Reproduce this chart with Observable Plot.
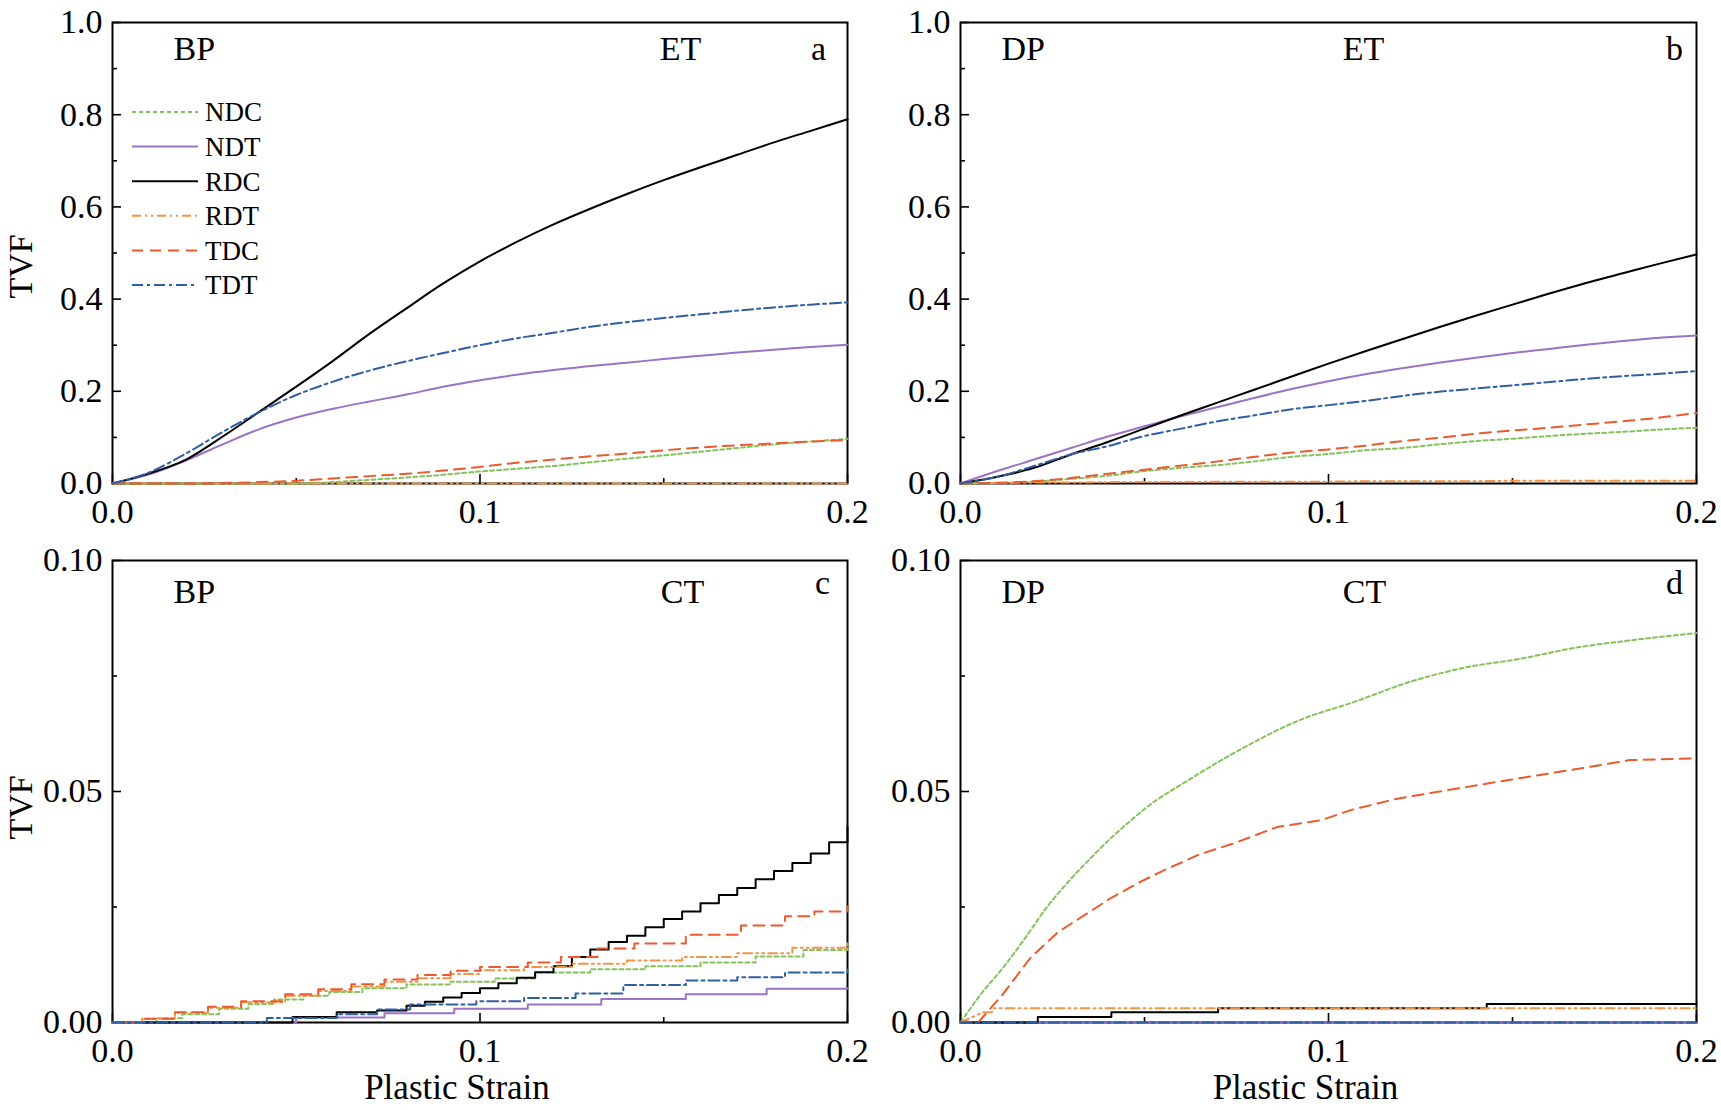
<!DOCTYPE html>
<html><head><meta charset="utf-8">
<script src="https://cdn.jsdelivr.net/npm/d3@7"></script>
<script src="https://cdn.jsdelivr.net/npm/@observablehq/plot@0.6"></script>
<style>
html,body{margin:0;padding:0;background:#fff;}
#wrap{position:relative;width:1721px;height:1110px;overflow:hidden;background:#fff;font-family:"Liberation Serif","Times New Roman",serif;}
</style></head><body><div id="wrap"></div>
<script>
// ---------- data ----------
const seriesNames = ["NDC","NDT","RDC","RDT","TDC","TDT"];
const seriesColor = {NDC:"#84c25c", NDT:"#9c72c4", RDC:"#000000", RDT:"#f19545", TDC:"#ea5a2c", TDT:"#2f5ea6"};
const seriesDash  = {NDC:"4,3", NDT:null, RDC:null, RDT:"9,4,2,4,2,4", TDC:"11,7", TDT:"11,4,3,4"};

const xTicksMajor = [0, 0.1, 0.2];
const xTicksMinor = [0.05, 0.15];
const yTopMajor = [0, 0.2, 0.4, 0.6, 0.8, 1.0];
const yTopMinor = [0.1, 0.3, 0.5, 0.7, 0.9];
const yBotMajor = [0, 0.05, 0.10];
const yBotMinor = [0.025, 0.075];

const X21 = [0,0.01,0.02,0.03,0.04,0.05,0.06,0.07,0.08,0.09,0.1,0.11,0.12,0.13,0.14,0.15,0.16,0.17,0.18,0.19,0.2];

// panel a : BP, ET
const a_NDC = [0,0,0,0,0,0,0.003,0.008,0.013,0.019,0.026,0.032,0.038,0.046,0.054,0.061,0.069,0.077,0.085,0.091,0.097];
const a_NDT = [0,0.02,0.05,0.085,0.118,0.143,0.162,0.178,0.193,0.21,0.224,0.236,0.246,0.255,0.262,0.27,0.277,0.284,0.29,0.296,0.301];
const a_RDC = [0,0.022,0.052,0.102,0.156,0.21,0.266,0.325,0.38,0.434,0.482,0.524,0.562,0.596,0.628,0.658,0.686,0.713,0.74,0.765,0.79];
const a_RDT = [0,0,0,0,0,0,0,0,0,0,0,0,0,0,0,0,0,0,0,0,0];
const a_TDC = [0,0,0,0.001,0.003,0.006,0.011,0.016,0.021,0.028,0.036,0.045,0.052,0.059,0.065,0.072,0.078,0.083,0.087,0.091,0.094];
const a_TDT = [0,0.024,0.065,0.112,0.155,0.192,0.221,0.245,0.265,0.283,0.3,0.315,0.327,0.34,0.35,0.359,0.367,0.375,0.382,0.388,0.393];

// panel b : DP, ET
const b_NDC = [0,0.001,0.004,0.01,0.017,0.027,0.034,0.04,0.048,0.058,0.064,0.072,0.077,0.085,0.092,0.097,0.103,0.108,0.112,0.117,0.121];
const b_NDT = [0,0.027,0.052,0.077,0.102,0.124,0.146,0.166,0.186,0.205,0.222,0.237,0.25,0.262,0.273,0.283,0.292,0.301,0.309,0.316,0.321];
const b_RDC = [0,0.0145,0.034,0.063,0.09,0.119,0.148,0.176,0.204,0.232,0.26,0.287,0.313,0.339,0.364,0.388,0.412,0.435,0.456,0.477,0.497];
const b_RDT = [0,0.001,0.002,0.002,0.003,0.003,0.003,0.004,0.004,0.004,0.004,0.005,0.005,0.005,0.005,0.006,0.006,0.006,0.006,0.006,0.006];
const b_TDC = [0,0.0015,0.005,0.012,0.021,0.03,0.039,0.048,0.058,0.067,0.074,0.082,0.092,0.099,0.108,0.115,0.121,0.128,0.135,0.143,0.153];
const b_TDT = [0,0.0145,0.038,0.063,0.081,0.103,0.119,0.135,0.148,0.161,0.17,0.179,0.19,0.199,0.206,0.213,0.22,0.227,0.233,0.238,0.244];

// panel c : BP, CT (step data)
const c_NDC_x = [0,0.012,0.019,0.029,0.037,0.044,0.052,0.059,0.068,0.08,0.092,0.104,0.115,0.13,0.145,0.16,0.175,0.188,0.2];
const c_NDC_y = [0,0.0009,0.0018,0.003,0.004,0.005,0.0058,0.0066,0.0074,0.0082,0.0088,0.0095,0.0108,0.0115,0.0122,0.013,0.0143,0.0157,0.0171];
const c_NDT_x = [0,0.05,0.074,0.093,0.113,0.133,0.156,0.178,0.2];
const c_NDT_y = [0,0.0011,0.002,0.003,0.0039,0.0051,0.0061,0.0073,0.0074];
const c_RDC_x = [0,0.049,0.061,0.072,0.08,0.085,0.09,0.095,0.1,0.105,0.11,0.115,0.12,0.125,0.13,0.135,0.14,0.145,0.15,0.155,0.16,0.165,0.17,0.175,0.18,0.185,0.19,0.195,0.2];
const c_RDC_y = [0,0.0012,0.0022,0.0026,0.0036,0.0045,0.0054,0.0064,0.0074,0.0085,0.0097,0.0109,0.0122,0.0142,0.0158,0.0174,0.0188,0.0206,0.0224,0.024,0.0258,0.0276,0.0291,0.031,0.0328,0.0345,0.0366,0.039,0.0423];
const c_RDT_x = [0,0.008,0.017,0.026,0.035,0.047,0.056,0.065,0.074,0.083,0.092,0.1,0.112,0.125,0.14,0.155,0.17,0.185,0.2];
const c_RDT_y = [0,0.0008,0.0021,0.0032,0.0044,0.0058,0.0068,0.0078,0.0088,0.0096,0.0105,0.0113,0.012,0.0127,0.0134,0.0142,0.015,0.0162,0.0171];
const c_TDC_x = [0,0.008,0.017,0.026,0.035,0.047,0.056,0.065,0.074,0.083,0.092,0.1,0.113,0.122,0.132,0.142,0.156,0.171,0.183,0.191,0.2];
const c_TDC_y = [0,0.0008,0.0022,0.0034,0.0046,0.0061,0.0072,0.0083,0.0093,0.0103,0.0112,0.012,0.013,0.0142,0.016,0.0171,0.019,0.021,0.023,0.024,0.0251];
const c_TDT_x = [0,0.042,0.061,0.072,0.081,0.099,0.112,0.126,0.139,0.156,0.17,0.183,0.2];
const c_TDT_y = [0,0.001,0.0018,0.0028,0.0039,0.0046,0.0053,0.0063,0.0081,0.0091,0.0098,0.0108,0.0122];

// panel d : DP, CT
const d_NDC_x = [0,0.0055,0.0115,0.0175,0.0235,0.029,0.0354,0.0414,0.047,0.05,0.062,0.077,0.092,0.107,0.122,0.137,0.152,0.167,0.182,0.2];
const d_NDC_y = [0,0.0061,0.0118,0.0182,0.0250,0.0302,0.0356,0.0403,0.0442,0.0462,0.0525,0.0595,0.0654,0.0694,0.0737,0.0768,0.0787,0.0811,0.0827,0.0843];
const d_NDT_x = [0,0.2];
const d_NDT_y = [0,0];
const d_RDC_x = [0,0.021,0.041,0.07,0.143,0.2];
const d_RDC_y = [0,0.0012,0.0022,0.0031,0.004,0.004];
const d_RDT_x = [0,0.006,0.0085,0.009,0.2];
const d_RDT_y = [0,0.0022,0.0022,0.0031,0.0031];
const d_TDC_x = [0,0.0048,0.0115,0.019,0.0264,0.034,0.041,0.049,0.056,0.065,0.074,0.086,0.098,0.107,0.119,0.131,0.149,0.167,0.182,0.2];
const d_TDC_y = [0,0,0.0061,0.014,0.0195,0.0234,0.027,0.0305,0.0332,0.0364,0.0387,0.0423,0.0438,0.0462,0.0485,0.0501,0.0525,0.0548,0.0568,0.0572];
const d_TDT_x = [0,0.2];
const d_TDT_y = [0,0];

// ---------- build ----------
const rows = (xs, ys) => xs.map((x, i) => ({x, y: ys[i]}));
const wrap = document.getElementById("wrap");
const FONT = '"Liberation Serif","Times New Roman",serif';

const panels = [
  {id:"a", mode:"BP", test:"ET", left:0, top:0, width:860, height:545, ml:112, mr:13, mt:22, mb:62,
   yDomain:[0,1], yMajor:yTopMajor, yMinor:yTopMinor, yFmt:d3.format(".1f"),
   modeDx:61, testDx:568, idDx:706, labDy:27, idDy:27, tvfDy:13.5, xlabel:false,
   series:{NDC:[X21,a_NDC,"monotone-x"],NDT:[X21,a_NDT,"monotone-x"],RDC:[X21,a_RDC,"monotone-x"],RDT:[X21,a_RDT,"linear"],TDC:[X21,a_TDC,"monotone-x"],TDT:[X21,a_TDT,"monotone-x"]}},
  {id:"b", mode:"DP", test:"ET", left:860, top:0, width:861, height:545, ml:100, mr:25, mt:22, mb:62,
   yDomain:[0,1], yMajor:yTopMajor, yMinor:yTopMinor, yFmt:d3.format(".1f"),
   modeDx:41, testDx:403, idDx:714, labDy:27, idDy:27, tvfDy:null, xlabel:false,
   series:{NDC:[X21,b_NDC,"monotone-x"],NDT:[X21,b_NDT,"monotone-x"],RDC:[X21,b_RDC,"monotone-x"],RDT:[X21,b_RDT,"linear"],TDC:[X21,b_TDC,"monotone-x"],TDT:[X21,b_TDT,"monotone-x"]}},
  {id:"c", mode:"BP", test:"CT", left:0, top:545, width:860, height:565, ml:112, mr:13, mt:15, mb:88,
   yDomain:[0,0.1], yMajor:yBotMajor, yMinor:yBotMinor, yFmt:d3.format(".2f"),
   modeDx:61, testDx:570, idDx:710, labDy:32, idDy:23, tvfDy:16, xlabel:true,
   series:{NDC:[c_NDC_x,c_NDC_y,"step-after"],NDT:[c_NDT_x,c_NDT_y,"step-after"],RDC:[c_RDC_x,c_RDC_y,"step-after"],RDT:[c_RDT_x,c_RDT_y,"step-after"],TDC:[c_TDC_x,c_TDC_y,"step-after"],TDT:[c_TDT_x,c_TDT_y,"step-after"]}},
  {id:"d", mode:"DP", test:"CT", left:860, top:545, width:861, height:565, ml:100, mr:25, mt:15, mb:88,
   yDomain:[0,0.1], yMajor:yBotMajor, yMinor:yBotMinor, yFmt:d3.format(".2f"),
   modeDx:41, testDx:404, idDx:714, labDy:32, idDy:23, tvfDy:null, xlabel:true,
   series:{NDC:[d_NDC_x,d_NDC_y,"monotone-x"],NDT:[d_NDT_x,d_NDT_y,"linear"],RDC:[d_RDC_x,d_RDC_y,"step-after"],RDT:[d_RDT_x,d_RDT_y,"linear"],TDC:[d_TDC_x,d_TDC_y,"linear"],TDT:[d_TDT_x,d_TDT_y,"linear"]}}
];

const fmtX = d3.format(".1f");
for (const p of panels) {
  const fw = p.width - p.ml - p.mr;
  const fh = p.height - p.mt - p.mb;
  const marks = [
    Plot.frame({strokeWidth: 2}),
    // inward ticks
    Plot.tickX(xTicksMajor, {x: d => d, insetTop: fh - 9, strokeWidth: 1.6}),
    Plot.tickX(xTicksMinor, {x: d => d, insetTop: fh - 5, strokeWidth: 1.6}),
    Plot.tickY(p.yMajor, {y: d => d, insetRight: fw - 9, strokeWidth: 1.6}),
    Plot.tickY(p.yMinor, {y: d => d, insetRight: fw - 5, strokeWidth: 1.6}),
    // tick labels
    Plot.axisX({ticks: xTicksMajor, tickSize: 0, tickPadding: 15, tickFormat: fmtX, label: null, fontSize: 34}),
    Plot.axisY({ticks: p.yMajor, tickSize: 0, tickPadding: 10, tickFormat: p.yFmt, label: null, fontSize: 34})
  ];
  for (const name of seriesNames) {
    const [xs, ys, curve] = p.series[name];
    marks.push(Plot.line(rows(xs, ys), {x: "x", y: "y", stroke: seriesColor[name], strokeWidth: 2,
      strokeDasharray: seriesDash[name], curve}));
  }
  const T = {text: d => d, lineAnchor: "middle", fontSize: 34};
  marks.push(Plot.text([p.mode], {...T, frameAnchor: "top-left", dx: p.modeDx, dy: p.labDy, textAnchor: "start"}));
  marks.push(Plot.text([p.test], {...T, frameAnchor: "top-left", dx: p.testDx, dy: p.labDy, textAnchor: "middle"}));
  marks.push(Plot.text([p.id], {...T, frameAnchor: "top-left", dx: p.idDx, dy: p.idDy, textAnchor: "middle"}));
  if (p.tvfDy !== null) {
    marks.push(Plot.text(["TVF"], {...T, frameAnchor: "left", textAnchor: "middle", rotate: -90, dx: -91, dy: p.tvfDy}));
  }
  if (p.xlabel) {
    marks.push(Plot.text(["Plastic Strain"], {...T, fontSize: 35, frameAnchor: "bottom", textAnchor: "middle", dx: -23, dy: 65}));
  }
  const svg = Plot.plot({
    width: p.width, height: p.height,
    marginLeft: p.ml, marginRight: p.mr, marginTop: p.mt, marginBottom: p.mb,
    x: {domain: [0, 0.2], label: null},
    y: {domain: p.yDomain, label: null},
    style: {fontFamily: FONT, fontSize: "34px", color: "black", background: "transparent", overflow: "visible"},
    marks
  });
  svg.style.position = "absolute";
  svg.style.left = p.left + "px";
  svg.style.top = p.top + "px";
  wrap.appendChild(svg);
}

// legend (panel a)
const leg = d3.select(wrap).append("svg")
  .attr("width", 400).attr("height", 320)
  .style("position", "absolute").style("left", "0px").style("top", "0px")
  .style("font-family", FONT);
seriesNames.forEach((n, i) => {
  const y = 112 + i * 34.6;
  leg.append("line").attr("x1", 132).attr("x2", 198).attr("y1", y).attr("y2", y)
    .attr("stroke", seriesColor[n]).attr("stroke-width", 2)
    .attr("stroke-dasharray", seriesDash[n]);
  leg.append("text").attr("x", 205).attr("y", y).attr("dy", "0.35em")
    .attr("font-size", 27).attr("fill", "#000").text(n);
});
</script></body></html>
